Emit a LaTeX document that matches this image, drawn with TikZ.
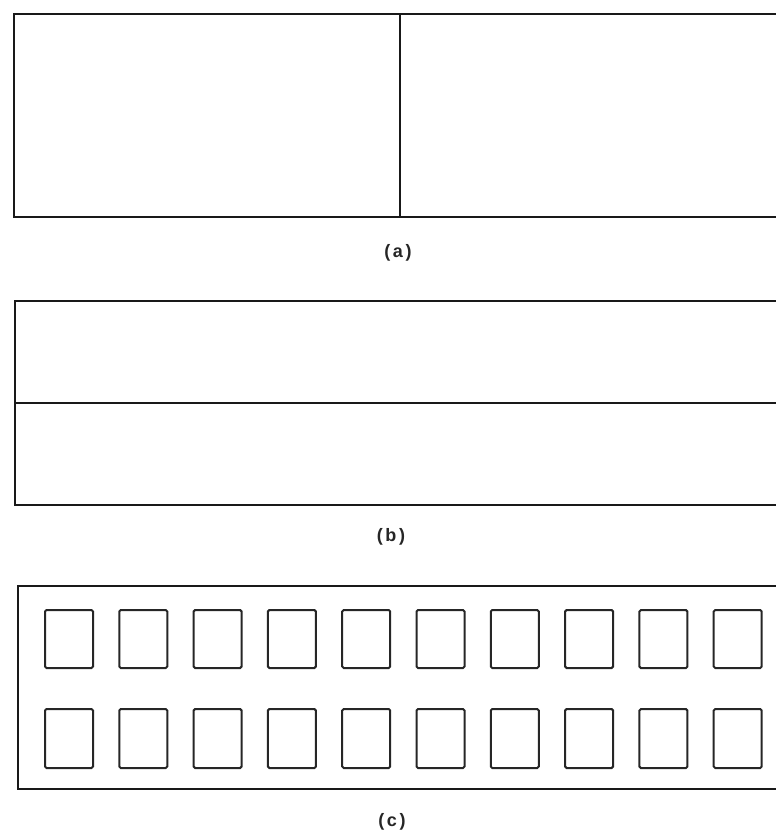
\documentclass[tikz,border=0pt]{standalone}
\usepackage{fontspec}
\newfontfamily\labfont[LetterSpace=15]{Liberation Sans}
\begin{document}
\begin{tikzpicture}[x=1pt,y=-1pt,
  outer/.style={line width=2.6pt,line join=miter,draw=black!90},
  divider/.style={line width=2pt,draw=black!90},
  cell/.style={line width=2pt,rounded corners=1.5pt,draw=black!85},
  lab/.style={font=\labfont\bfseries\fontsize{18}{20}\selectfont,inner sep=0pt,text=black!85}]
\useasboundingbox (0,0) rectangle (776,835);
\clip (0,0) rectangle (776,835);
% (a)
\draw[outer] (14,14) rectangle (800,217);
\draw[divider] (400,14) -- (400,217);
\node[lab] (la) at (398,253) {(a)};
% (b)
\draw[outer] (15,301) rectangle (800,505);
\draw[divider] (15,403) -- (800,403);
\node[lab] (lb) at (391,537) {(b)};
% (c)
\draw[outer] (18,586) rectangle (800,789);
\foreach \i in {0,...,9}{
  \pgfmathsetmacro{\xx}{45+74.3*\i}
  \draw[cell] (\xx,610) rectangle ++(48,58);
  \draw[cell] (\xx,709) rectangle ++(48,59);
}
\node[lab] (lc) at (392,822) {(c)};
\end{tikzpicture}
\end{document}
